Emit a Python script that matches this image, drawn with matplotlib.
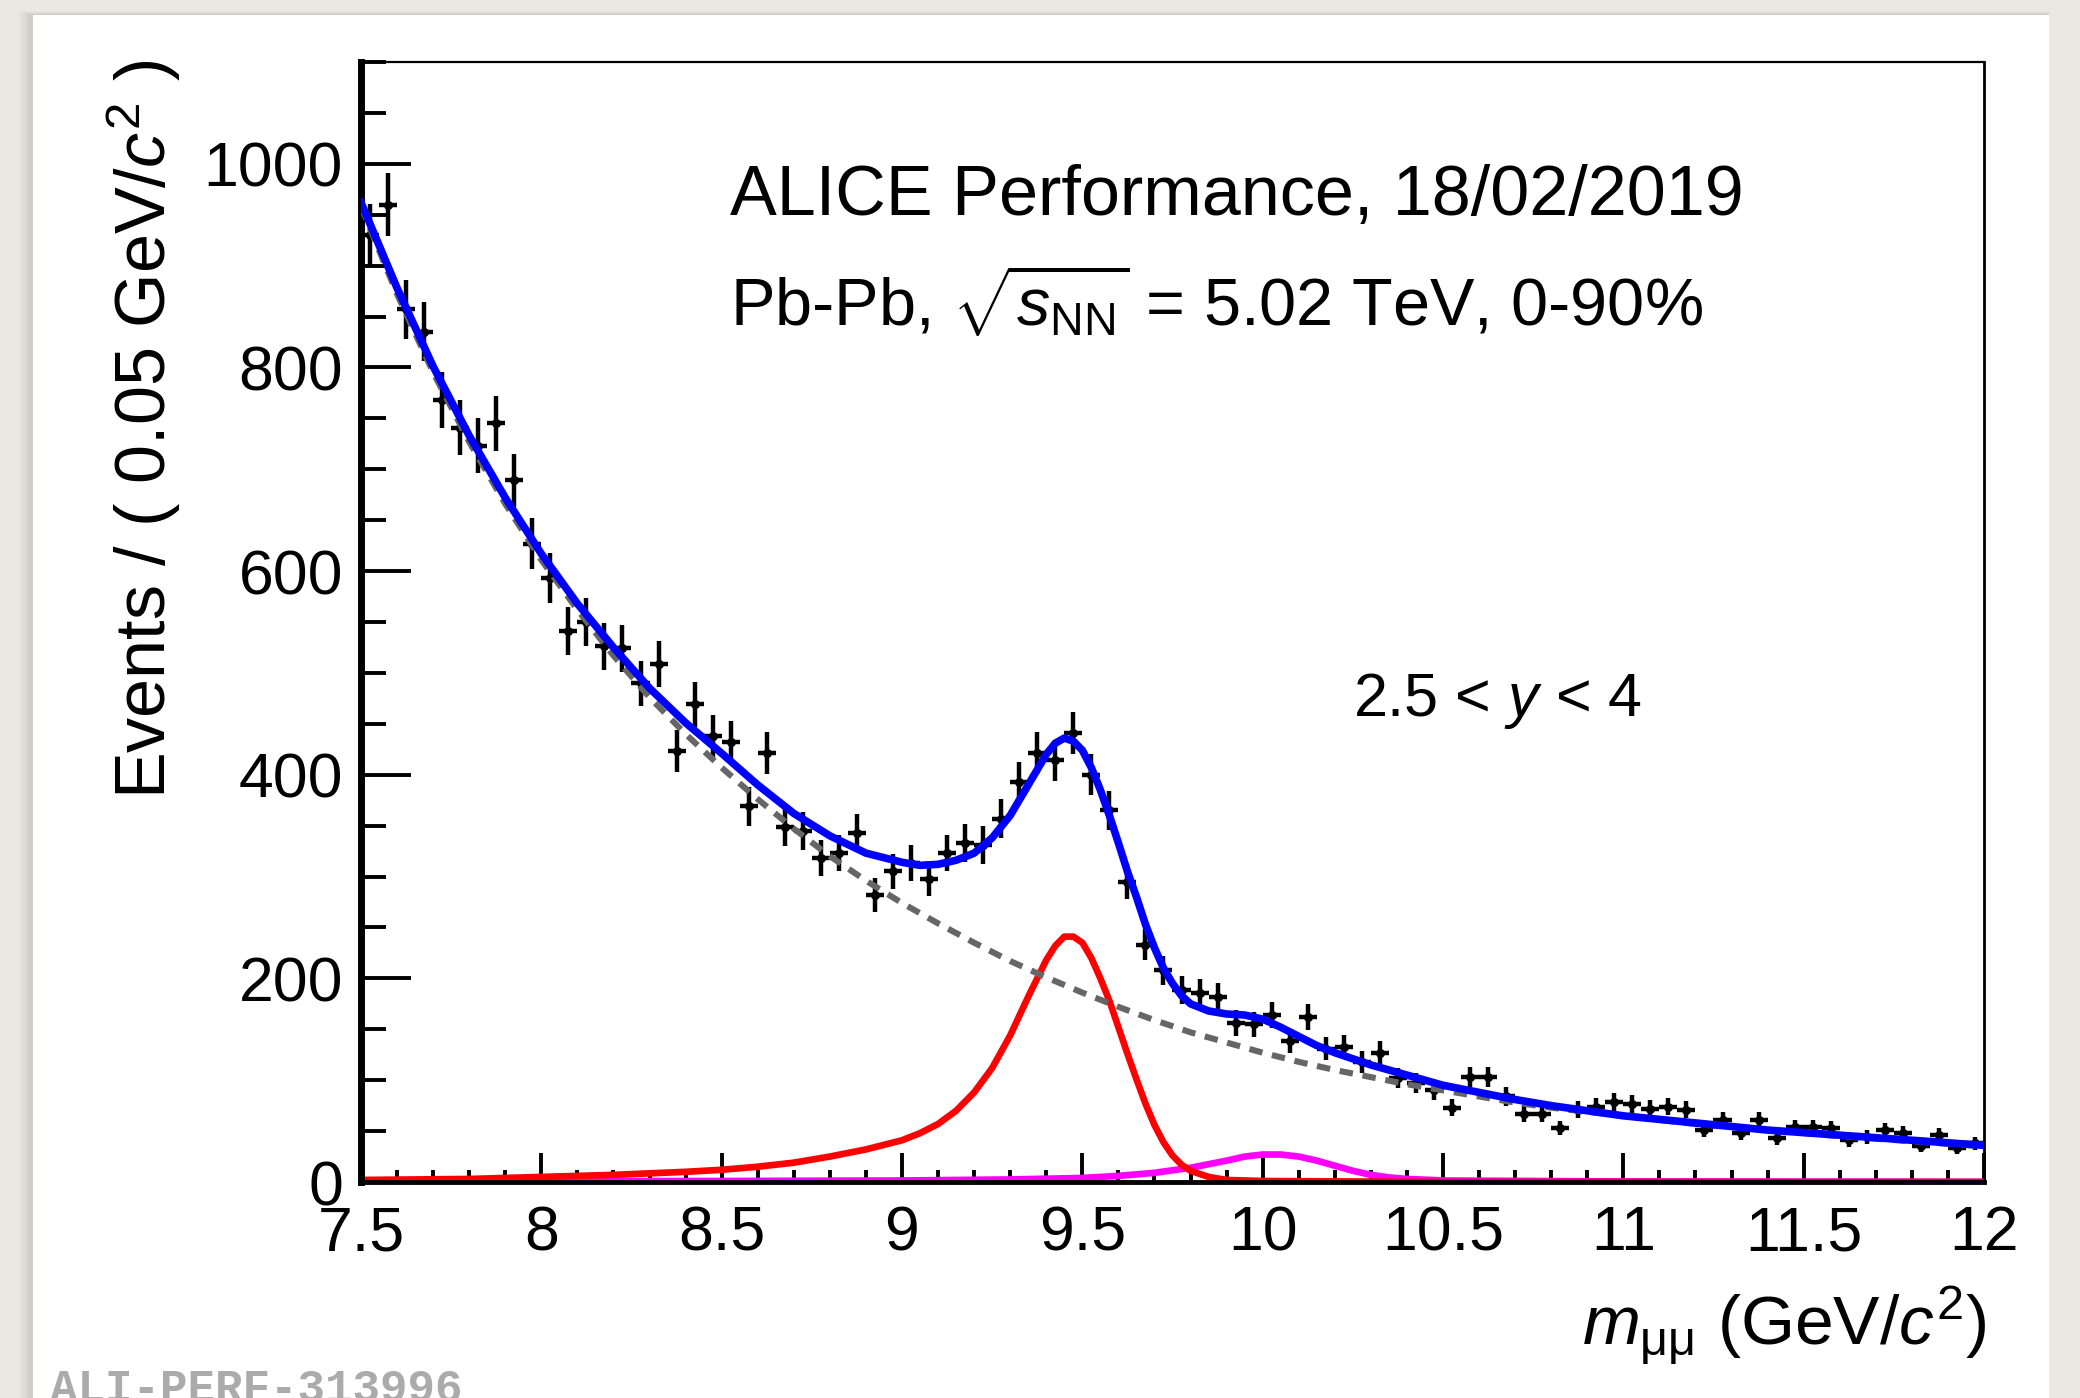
import numpy as np
import matplotlib.pyplot as plt
from matplotlib.patches import Rectangle
from matplotlib.ticker import FixedLocator, MultipleLocator

plt.rcParams['font.family'] = ['Liberation Sans', 'DejaVu Sans']
plt.rcParams['mathtext.fontset'] = 'custom'
plt.rcParams['mathtext.rm'] = 'Liberation Sans'
plt.rcParams['mathtext.it'] = 'Liberation Sans:italic'
plt.rcParams['mathtext.bf'] = 'Liberation Sans:bold'

W, H = 2080, 1398

# dimuon invariant-mass histogram, 0.05 GeV/c^2 bins from 7.5 to 12
MASS_LOW = 7.5
BIN_WIDTH = 0.05
counts = [930, 960, 857, 835, 768, 741, 723, 745, 689, 627,
          593, 541, 550, 526, 524, 490, 509, 423, 469, 438,
          432, 369, 421, 349, 345, 318, 323, 343, 282, 305,
          313, 298, 323, 333, 331, 357, 393, 421, 414, 441,
          400, 365, 295, 233, 208, 189, 186, 182, 156, 155,
          164, 138, 162, 131, 133, 118, 127, 102, 97, 90,
          73, 103, 103, 84, 67, 67, 53, 71, 74, 79,
          77, 72, 74, 71, 51, 61, 48, 61, 43, 54,
          54, 53, 41, 44, 51, 48, 35, 46, 33, 38]

# total fit (blue)
total_mass = [7.5, 7.6, 7.7, 7.8, 7.9, 8.0, 8.1, 8.2, 8.3, 8.4, 8.5, 8.6, 8.7, 8.8,
              8.9, 9.0, 9.05, 9.1, 9.15, 9.2, 9.25, 9.3, 9.35, 9.4, 9.425, 9.45,
              9.475, 9.5, 9.525, 9.55, 9.575, 9.6, 9.625, 9.65, 9.675, 9.7, 9.725,
              9.75, 9.775, 9.8, 9.85, 9.9, 9.95, 10.0, 10.05, 10.1, 10.15, 10.2,
              10.3, 10.4, 10.5, 10.6, 10.7, 10.8, 10.9, 11.0, 11.2, 11.4, 11.6,
              11.8, 12.0]
total_fit = [962, 878, 801, 733, 672, 617, 568, 525, 485, 451, 421, 390, 362, 340,
             323, 314, 311, 312, 316, 323, 338, 360, 390, 420, 431, 436,
             433, 424, 407, 385, 360, 333, 305, 280, 253, 230, 210,
             195, 183, 175, 168, 165, 164, 160, 152, 143, 134, 127,
             115, 105, 95, 88, 81, 75, 70, 65, 58, 51, 46,
             41, 36]

# background (grey dashed)
bkg_mass = [7.5, 7.6, 7.7, 7.8, 7.9, 8.0, 8.1, 8.2, 8.3, 8.4, 8.5, 8.6, 8.7, 8.8,
            8.9, 9.0, 9.1, 9.2, 9.3, 9.4, 9.5, 9.6, 9.7, 9.8, 9.9, 10.0, 10.1,
            10.2, 10.3, 10.4, 10.5, 10.6, 10.7, 10.8, 10.9, 11.0, 11.2, 11.4,
            11.6, 11.8, 12.0]
bkg_fit = [958, 872, 795, 727, 666, 611, 562, 517, 476, 440, 407, 376, 347, 320,
           296, 274, 254, 235, 217, 201, 186, 172, 159, 147, 137, 127, 118,
           110, 103, 96, 90, 84, 78, 73, 69, 65, 57, 51,
           45, 40, 35]

# Upsilon(1S) signal (red)
y1s_mass = [7.5, 7.8, 8.0, 8.2, 8.4, 8.5, 8.6, 8.7, 8.8, 8.9, 9.0, 9.05, 9.1, 9.15,
            9.2, 9.25, 9.3, 9.35, 9.4, 9.425, 9.45, 9.475, 9.5, 9.525, 9.55,
            9.575, 9.6, 9.625, 9.65, 9.675, 9.7, 9.725, 9.75, 9.775, 9.8, 9.85,
            9.9, 10.0, 10.5, 12.0]
y1s_fit = [2, 3, 5, 7, 10, 12, 15, 19, 25, 32, 41, 48, 57, 70,
           88, 112, 144, 182, 218, 232, 241, 241, 235, 220, 200,
           178, 152, 126, 101, 77, 56, 39, 26, 17, 11, 5,
           2, 1, 0, 0]

# Upsilon(2S) signal (magenta)
y2s_mass = [7.5, 8.5, 9.0, 9.3, 9.5, 9.6, 9.7, 9.8, 9.9, 9.95, 10.0, 10.05, 10.1,
            10.15, 10.2, 10.25, 10.3, 10.35, 10.4, 10.5, 11.0, 12.0]
y2s_fit = [0.5, 1, 1.5, 2.5, 4, 6, 9, 14, 21, 25, 27, 27, 25,
           21, 16, 11, 7, 4.5, 3, 1.5, 0.5, 0.2]

x_ticks = [7.5, 8, 8.5, 9, 9.5, 10, 10.5, 11, 11.5, 12]
x_tick_labels = ['7.5', '8', '8.5', '9', '9.5', '10', '10.5', '11', '11.5', '12']
y_ticks = [0, 200, 400, 600, 800, 1000]


def fx(px):
    return px / W


def fy(py):
    return 1 - py / H


fig = plt.figure(figsize=(W / 100, H / 100), dpi=100)
fig.patch.set_facecolor('#EAE8E3')

# white card with a soft shadow on the left
for i, a in enumerate([0.05, 0.06, 0.08, 0.10]):
    off = 14 - 3 * i
    fig.patches.append(Rectangle((fx(33 - off), 0), fx(2049 - 33 + off), fy(15 - off * 0.3),
                                 transform=fig.transFigure, facecolor='#8C8880',
                                 edgecolor='none', alpha=a, zorder=-5))
fig.patches.append(Rectangle((fx(33), 0), fx(2049 - 33), fy(15),
                             transform=fig.transFigure, facecolor='white',
                             edgecolor='none', zorder=-4))

ax = fig.add_axes([fx(361), fy(1182), fx(1984 - 361), (1182 - 62) / H])
ax.set_zorder(2)
ax.set_facecolor('white')

centers = MASS_LOW + BIN_WIDTH * (np.arange(len(counts)) + 0.5)
counts_arr = np.array(counts, dtype=float)

ax.plot(y2s_mass, y2s_fit, color='#FF00FF', lw=4.8, zorder=2, solid_capstyle='butt')
ax.plot(y1s_mass, y1s_fit, color='#FF0000', lw=4.8, zorder=2.1, solid_capstyle='butt')
ax.errorbar(centers, counts_arr, xerr=BIN_WIDTH / 2, yerr=np.sqrt(counts_arr),
            fmt='o', ms=5.5, color='black', ecolor='black', elinewidth=3.2,
            capsize=0, zorder=3)
ax.plot(bkg_mass, bkg_fit, color='#666666', lw=4.4, ls=(0, (2.2, 1.6)), zorder=3.5)
ax.plot(total_mass, total_fit, color='#0000FF', lw=5.5, zorder=4)

ax.set_xlim(7.5, 12)
ax.set_ylim(0, 1100)

ax.xaxis.set_major_locator(FixedLocator(x_ticks))
ax.set_xticklabels(x_tick_labels)
ax.xaxis.set_minor_locator(MultipleLocator(0.1))
ax.yaxis.set_major_locator(FixedLocator(y_ticks))
ax.yaxis.set_minor_locator(MultipleLocator(50))

ax.tick_params(axis='y', which='major', direction='in', length=36, width=2.8,
               labelsize=45, pad=13, right=False)
ax.tick_params(axis='y', which='minor', direction='in', length=18, width=2.8, right=False)
ax.tick_params(axis='x', which='major', direction='in', length=21, width=2.8,
               labelsize=45, pad=16, top=False)
ax.tick_params(axis='x', which='minor', direction='in', length=9, width=2.8, top=False)

ax.spines['left'].set_linewidth(5)
ax.spines['bottom'].set_linewidth(3.5)
ax.spines['top'].set_linewidth(1.6)
ax.spines['right'].set_linewidth(2.0)

# axis titles placed like ROOT: at the far end of each axis
fig.text(fx(143), fy(60), r'Events / ( 0.05 GeV/$c^{2}$ )', rotation=90,
         ha='center', va='top', fontsize=50.5)
fig.text(fx(1986), fy(1326), r'$m_{\mathrm{\mu\mu}}$ (GeV/$c^{2}$)',
         ha='right', va='center', fontsize=50)

fig.text(fx(730), fy(215), 'ALICE Performance, 18/02/2019', fontsize=50.5, va='baseline')
fig.text(fx(730), fy(325), r'Pb-Pb, $\sqrt{s_{\mathrm{NN}}}$ = 5.02 TeV, 0-90%',
         fontsize=48, va='baseline')
fig.text(fx(1353), fy(716), r'2.5 < $y$ < 4', fontsize=44, va='baseline')

fig.text(fx(50), fy(1368), 'ALI-PERF-313996', family=['Liberation Mono', 'DejaVu Sans Mono'],
         fontweight='bold', color='#ABABAB', fontsize=33, va='top')

fig.savefig('out.png', dpi=100, facecolor=fig.get_facecolor())
